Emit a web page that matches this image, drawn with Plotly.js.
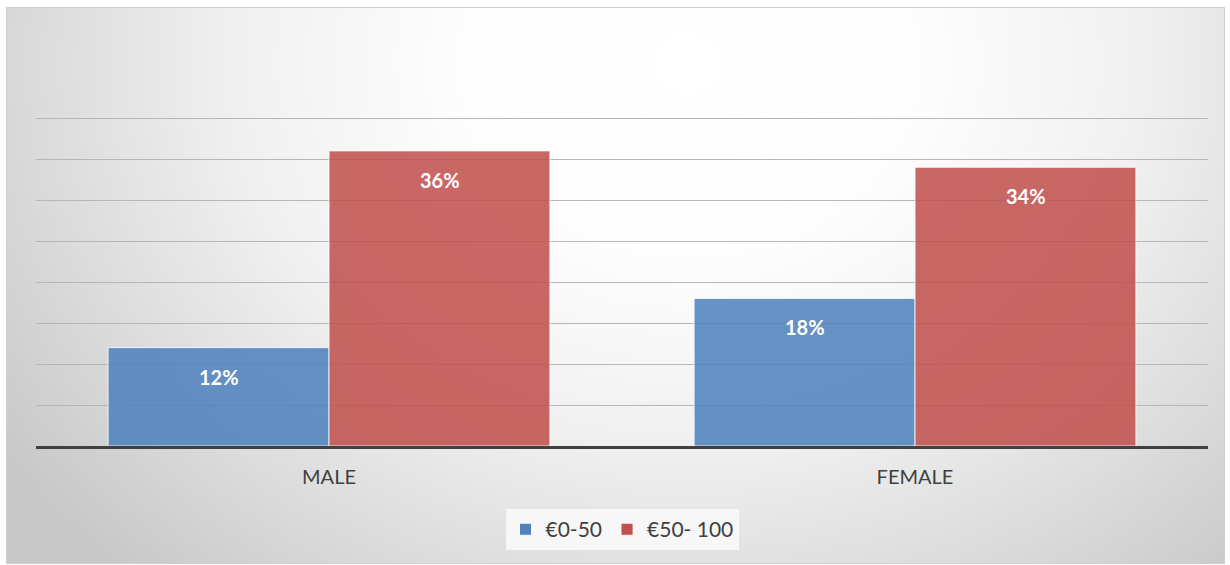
<!DOCTYPE html>
<html>
<head>
<meta charset="utf-8">
<script src="https://cdn.plot.ly/plotly-3.0.1.min.js"></script>
<style>
  html, body { margin: 0; padding: 0; background: #ffffff; }
  #frame {
    position: absolute; left: 6px; top: 7px; width: 1217px; height: 555px;
    border: 1px solid #cfcfcf;
    background: radial-gradient(ellipse 68% 125% at 56% 10%, #ffffff 0%, #fdfdfd 28%, #f0f0f0 55%, #dadada 80%, #c8c8c8 100%);
  }
  #chart { position: absolute; left: 0; top: 0; width: 1230px; height: 565px; }
</style>
</head>
<body>
<div id="frame"></div>
<div id="chart"></div>
<script>
// Spending bands by gender (percent of respondents)
const categories = ['MALE', 'FEMALE'];
const seriesNames = ['€0-50', '€50- 100'];
const lowBand = [12, 18];
const highBand = [36, 34];
const seriesValues = [lowBand, highBand];
const seriesColors = ['#4f81bd', '#c0504d'];

const traces = seriesValues.map((vals, i) => ({
  type: 'bar',
  name: seriesNames[i],
  x: categories,
  y: vals,
  marker: {
    color: seriesColors[i],
    opacity: 0.86,
    line: { color: 'rgba(255,255,255,0.85)', width: 1 }
  },
  hoverinfo: 'none'
}));

// value labels sit just under the top of each bar
const annotations = [];
seriesValues.forEach((vals, i) => {
  vals.forEach((v, j) => {
    annotations.push({
      x: categories[j], y: v, xref: 'x', yref: 'y',
      xshift: i === 0 ? -110.5 : 110.5,
      yshift: -29,
      text: v + '%',
      showarrow: false,
      font: { family: 'Lato, "Open Sans", sans-serif', size: 20, color: '#ffffff', weight: 'bold' }
    });
  });
});

const layout = {
  width: 1230,
  height: 565,
  margin: { l: 36, r: 22, t: 114, b: 119 },
  paper_bgcolor: 'rgba(0,0,0,0)',
  plot_bgcolor: 'rgba(0,0,0,0)',
  barmode: 'group',
  bargap: 0.246,
  bargroupgap: 0,
  font: { family: 'Lato, "Open Sans", sans-serif', size: 20, color: '#404040' },
  xaxis: {
    showline: true,
    linecolor: '#404040',
    linewidth: 3,
    ticks: '',
    showgrid: false,
    tickfont: { size: 20, color: '#404040' },
    ticklabelstandoff: 11
  },
  yaxis: {
    range: [0, 40.5],
    dtick: 5,
    showticklabels: false,
    showgrid: true,
    gridcolor: '#b6b6b6',
    gridwidth: 1,
    zeroline: false,
    fixedrange: true
  },
  showlegend: true,
  legend: {
    orientation: 'h',
    x: 0.5, xanchor: 'center',
    y: -0.19, yanchor: 'top',
    bgcolor: '#f7f7f7',
    font: { size: 21, color: '#404040' },
    itemwidth: 30,
    traceorder: 'normal'
  },
  annotations: annotations
};

Plotly.newPlot('chart', traces, layout, { displayModeBar: false, staticPlot: true });
</script>
</body>
</html>
